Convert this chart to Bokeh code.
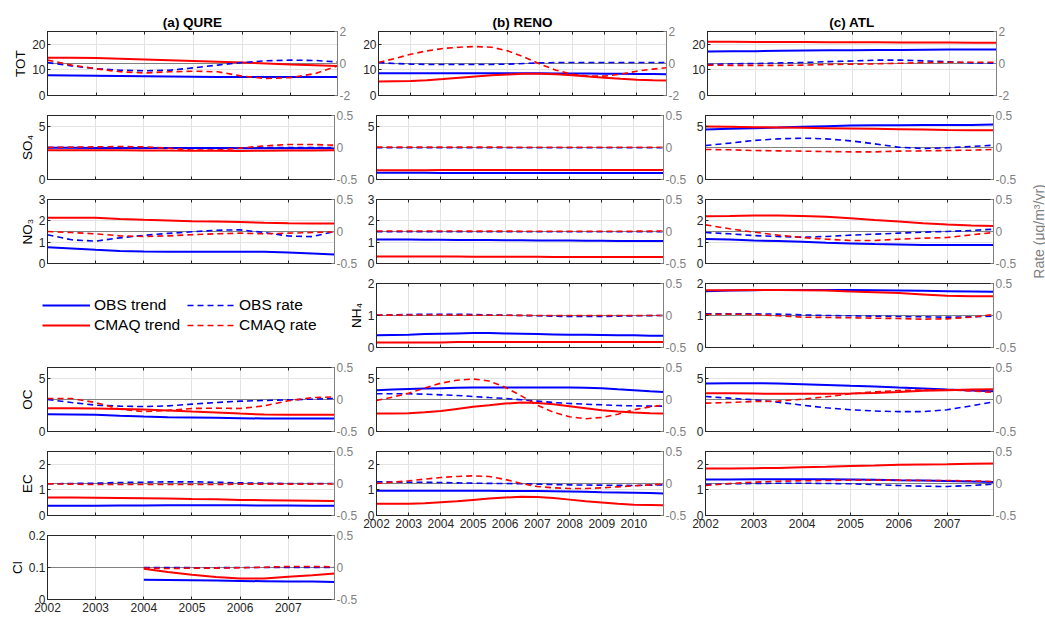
from bokeh.plotting import figure
from bokeh.models import (Range1d, LinearAxis, FixedTicker, Span, Legend, LegendItem,
                          Label, CustomJSTickFormatter)
from bokeh.layouts import row, column
from bokeh.embed import file_html
from bokeh.resources import INLINE

FONT = "Liberation Sans"
DARK = "#262626"
GRAY = "#808080"
GRIDC = "#e3e3e3"
BLUE = "#0000ff"
RED = "#ff0000"

# ---------------- data ----------------
QURE_YEARS = [2002, 2002.5, 2003, 2003.5, 2004, 2004.5, 2005, 2005.5, 2006, 2006.5, 2007, 2007.5, 2007.96]
QURE_CL_YEARS = [2004, 2004.5, 2005, 2005.5, 2006, 2006.5, 2007, 2007.5, 2007.96]
ATL_YEARS = [2002, 2002.5, 2003, 2003.5, 2004, 2004.5, 2005, 2005.5, 2006, 2006.5, 2007, 2007.5, 2007.96]
RENO_YEARS = [2002, 2002.5, 2003, 2003.5, 2004, 2004.5, 2005, 2005.5, 2006, 2006.5, 2007, 2007.5,
              2008, 2008.5, 2009, 2009.5, 2010, 2010.5, 2010.92]
TICKS_6Y = [2002, 2003, 2004, 2005, 2006, 2007]
TICKS_9Y = [2002, 2003, 2004, 2005, 2006, 2007, 2008, 2009, 2010]

# QURE
qure_tot_obs_trend = [7.9, 7.8, 7.7, 7.6, 7.5, 7.4, 7.3, 7.2, 7.2, 7.2, 7.2, 7.2, 7.2]
qure_tot_cmaq_trend = [14.7, 14.7, 14.6, 14.4, 14.1, 13.8, 13.5, 13.2, 12.9, 12.5, 12.1, 11.8, 11.5]
qure_tot_obs_rate = [0.06, -0.15, -0.32, -0.42, -0.46, -0.42, -0.27, -0.10, 0.06, 0.17, 0.21, 0.19, 0.10]
qure_tot_cmaq_rate = [0.21, -0.10, -0.33, -0.52, -0.59, -0.52, -0.48, -0.52, -0.79, -0.94, -0.88, -0.63, -0.15]

qure_so4_obs_trend = [2.97, 2.97, 2.96, 2.96, 2.95, 2.95, 2.95, 2.95, 2.94, 2.94, 2.94, 2.94, 2.94]
qure_so4_cmaq_trend = [2.75, 2.75, 2.75, 2.74, 2.73, 2.71, 2.70, 2.69, 2.68, 2.69, 2.71, 2.73, 2.74]
qure_so4_obs_rate = [0.0, 0.0, -0.005, -0.01, -0.01, -0.01, -0.01, -0.01, -0.005, 0.0, 0.0, 0.0, 0.0]
qure_so4_cmaq_rate = [0.0, 0.005, 0.01, 0.015, 0.01, -0.01, -0.04, -0.04, -0.01, 0.025, 0.047, 0.047, 0.036]

qure_no3_obs_trend = [0.76, 0.70, 0.64, 0.59, 0.56, 0.55, 0.55, 0.55, 0.55, 0.55, 0.51, 0.47, 0.42]
qure_no3_cmaq_trend = [2.14, 2.14, 2.14, 2.09, 2.05, 2.02, 1.98, 1.97, 1.94, 1.91, 1.89, 1.88, 1.88]
qure_no3_obs_rate = [-0.05, -0.13, -0.15, -0.10, -0.06, -0.03, -0.005, 0.02, 0.026, -0.016, -0.07, -0.08, 0.0]
qure_no3_cmaq_rate = [0.0, -0.016, -0.036, -0.068, -0.078, -0.068, -0.05, -0.036, -0.026, -0.036, -0.026, -0.016, -0.005]

qure_oc_obs_trend = [1.62, 1.59, 1.56, 1.47, 1.40, 1.34, 1.31, 1.28, 1.25, 1.22, 1.22, 1.22, 1.22]
qure_oc_cmaq_trend = [2.18, 2.18, 2.15, 2.12, 2.06, 1.97, 1.87, 1.78, 1.68, 1.59, 1.56, 1.56, 1.56]
qure_oc_obs_rate = [0.0, -0.047, -0.089, -0.104, -0.11, -0.10, -0.073, -0.047, -0.026, -0.016, -0.005, 0.005, 0.016]
qure_oc_cmaq_rate = [0.016, 0.016, -0.047, -0.15, -0.19, -0.17, -0.14, -0.135, -0.14, -0.10, -0.02, 0.03, 0.04]

qure_ec_obs_trend = [0.38, 0.38, 0.38, 0.39, 0.39, 0.40, 0.40, 0.40, 0.40, 0.39, 0.39, 0.38, 0.38]
qure_ec_cmaq_trend = [0.70, 0.70, 0.69, 0.68, 0.67, 0.66, 0.64, 0.63, 0.61, 0.60, 0.59, 0.58, 0.57]
qure_ec_obs_rate = [-0.005, 0.0, 0.005, 0.016, 0.02, 0.026, 0.026, 0.02, 0.01, 0.005, 0.0, 0.0, 0.0]
qure_ec_cmaq_rate = [-0.005, -0.01, -0.016, -0.016, -0.016, -0.016, -0.016, -0.016, -0.01, -0.01, -0.01, -0.01, -0.005]

qure_cl_obs_trend = [0.062, 0.061, 0.060, 0.059, 0.058, 0.057, 0.056, 0.056, 0.055]
qure_cl_cmaq_trend = [0.096, 0.086, 0.077, 0.070, 0.066, 0.066, 0.071, 0.076, 0.081]
qure_cl_obs_rate = [0.0, 0.0, -0.003, -0.003, 0.0, 0.0, 0.0, 0.0, 0.0]
qure_cl_cmaq_rate = [-0.01, -0.016, -0.01, -0.01, -0.005, 0.005, 0.016, 0.016, 0.01]

# RENO
reno_tot_obs_trend = [8.7, 8.7, 8.7, 8.7, 8.7, 8.7, 8.7, 8.7, 8.7, 8.7, 8.7, 8.6, 8.6, 8.6, 8.5, 8.5, 8.4, 8.4, 8.3]
reno_tot_cmaq_trend = [5.5, 5.6, 5.7, 6.0, 6.4, 6.9, 7.4, 7.9, 8.2, 8.5, 8.5, 8.3, 7.9, 7.4, 6.9, 6.5, 6.2, 6.0, 5.9]
reno_tot_obs_rate = [0.06, 0.0, -0.04, -0.06, -0.06, -0.06, -0.06, -0.06, -0.04, 0.0, 0.04, 0.06, 0.06, 0.06, 0.06, 0.06, 0.06, 0.06, 0.06]
reno_tot_cmaq_rate = [0.06, 0.31, 0.58, 0.79, 0.94, 1.02, 1.06, 1.02, 0.79, 0.42, -0.04, -0.42, -0.67, -0.79, -0.79, -0.67, -0.48, -0.35, -0.27]

reno_so4_obs_trend = [0.63, 0.63, 0.63, 0.63, 0.62, 0.62, 0.62, 0.62, 0.62, 0.62, 0.62, 0.61, 0.61, 0.61, 0.61, 0.61, 0.60, 0.60, 0.60]
reno_so4_cmaq_trend = [0.87, 0.87, 0.87, 0.87, 0.88, 0.88, 0.88, 0.88, 0.88, 0.88, 0.88, 0.89, 0.89, 0.89, 0.89, 0.89, 0.90, 0.90, 0.90]
reno_so4_obs_rate = [-0.004, -0.004, -0.005, -0.005, -0.005, -0.005, -0.005, -0.005, -0.005, -0.005, -0.005, -0.005, -0.005, -0.005, -0.005, -0.005, -0.004, -0.004, -0.004]
reno_so4_cmaq_rate = [0.006, 0.006, 0.006, 0.006, 0.006, 0.006, 0.006, 0.006, 0.005, 0.005, 0.005, 0.005, 0.005, 0.005, 0.005, 0.005, 0.005, 0.005, 0.005]

reno_no3_obs_trend = [1.12, 1.12, 1.12, 1.11, 1.11, 1.10, 1.10, 1.10, 1.09, 1.09, 1.08, 1.08, 1.08, 1.07, 1.07, 1.06, 1.06, 1.05, 1.05]
reno_no3_cmaq_trend = [0.33, 0.33, 0.33, 0.33, 0.33, 0.33, 0.32, 0.32, 0.32, 0.32, 0.32, 0.31, 0.31, 0.31, 0.31, 0.31, 0.30, 0.30, 0.30]
reno_no3_obs_rate = [-0.004, -0.004, -0.004, -0.004, -0.005, -0.005, -0.005, -0.005, -0.005, -0.005, -0.005, -0.005, -0.005, -0.005, -0.004, -0.004, -0.004, -0.004, -0.004]
reno_no3_cmaq_rate = [0.008, 0.008, 0.008, 0.008, 0.007, 0.007, 0.006, 0.006, 0.006, 0.005, 0.005, 0.005, 0.005, 0.005, 0.005, 0.005, 0.005, 0.006, 0.006]

reno_nh4_obs_trend = [0.38, 0.39, 0.40, 0.42, 0.43, 0.44, 0.45, 0.45, 0.44, 0.43, 0.42, 0.41, 0.40, 0.40, 0.39, 0.38, 0.38, 0.37, 0.37]
reno_nh4_cmaq_trend = [0.16, 0.16, 0.16, 0.16, 0.16, 0.17, 0.17, 0.17, 0.17, 0.17, 0.17, 0.17, 0.17, 0.17, 0.17, 0.17, 0.17, 0.17, 0.17]
reno_nh4_obs_rate = [0.005, 0.01, 0.016, 0.018, 0.02, 0.018, 0.016, 0.01, 0.005, 0.0, -0.005, -0.01, -0.016, -0.016, -0.016, -0.01, -0.005, -0.002, 0.0]
reno_nh4_cmaq_rate = [0.005, 0.006, 0.008, 0.008, 0.008, 0.006, 0.005, 0.004, 0.003, 0.002, 0.001, 0.0, 0.0, 0.0, 0.0, 0.0, 0.0, 0.0, 0.0]

reno_oc_obs_trend = [3.87, 3.93, 3.99, 4.03, 4.06, 4.09, 4.12, 4.12, 4.12, 4.12, 4.12, 4.12, 4.12, 4.09, 4.06, 3.96, 3.87, 3.78, 3.71]
reno_oc_cmaq_trend = [1.69, 1.69, 1.71, 1.81, 1.93, 2.12, 2.31, 2.46, 2.62, 2.71, 2.68, 2.56, 2.37, 2.18, 1.99, 1.87, 1.78, 1.71, 1.69]
reno_oc_obs_rate = [0.089, 0.089, 0.089, 0.083, 0.073, 0.063, 0.047, 0.031, 0.016, -0.005, -0.026, -0.047, -0.063, -0.073, -0.083, -0.094, -0.099, -0.104, -0.104]
reno_oc_cmaq_rate = [-0.016, 0.036, 0.099, 0.18, 0.255, 0.30, 0.32, 0.29, 0.19, 0.057, -0.089, -0.20, -0.27, -0.30, -0.28, -0.23, -0.16, -0.115, -0.089]

reno_ec_obs_trend = [0.965, 0.965, 0.965, 0.965, 0.965, 0.965, 0.965, 0.965, 0.96, 0.96, 0.955, 0.95, 0.94, 0.93, 0.91, 0.90, 0.89, 0.875, 0.86]
reno_ec_cmaq_trend = [0.46, 0.46, 0.46, 0.48, 0.52, 0.56, 0.61, 0.66, 0.70, 0.73, 0.72, 0.68, 0.62, 0.56, 0.51, 0.46, 0.42, 0.41, 0.40]
reno_ec_obs_rate = [0.026, 0.024, 0.021, 0.018, 0.016, 0.01, 0.005, 0.002, 0.0, -0.005, -0.01, -0.016, -0.021, -0.024, -0.026, -0.029, -0.031, -0.026, -0.021]
reno_ec_cmaq_rate = [0.0, 0.021, 0.042, 0.068, 0.094, 0.11, 0.12, 0.11, 0.063, 0.0, -0.047, -0.068, -0.078, -0.078, -0.068, -0.052, -0.036, -0.021, -0.01]

# ATL
atl_tot_obs_trend = [17.2, 17.25, 17.3, 17.45, 17.6, 17.65, 17.7, 17.75, 17.8, 17.9, 18.0, 18.0, 18.0]
atl_tot_cmaq_trend = [21.0, 21.0, 20.9, 20.9, 20.9, 20.8, 20.8, 20.8, 20.7, 20.7, 20.7, 20.6, 20.6]
atl_tot_obs_rate = [-0.06, -0.02, 0.0, 0.04, 0.06, 0.12, 0.16, 0.21, 0.21, 0.16, 0.10, 0.04, 0.02]
atl_tot_cmaq_rate = [-0.10, -0.12, -0.12, -0.12, -0.10, -0.06, -0.04, -0.02, 0.02, 0.06, 0.08, 0.08, 0.08]

atl_so4_obs_trend = [4.69, 4.75, 4.81, 4.87, 4.94, 5.00, 5.06, 5.09, 5.09, 5.12, 5.12, 5.12, 5.15]
atl_so4_cmaq_trend = [4.97, 4.94, 4.90, 4.87, 4.84, 4.81, 4.78, 4.75, 4.72, 4.69, 4.65, 4.62, 4.62]
atl_so4_obs_rate = [0.031, 0.068, 0.11, 0.135, 0.146, 0.135, 0.104, 0.057, 0.005, -0.016, -0.005, 0.016, 0.036]
atl_so4_cmaq_rate = [-0.031, -0.036, -0.047, -0.052, -0.057, -0.063, -0.068, -0.068, -0.057, -0.052, -0.047, -0.042, -0.031]

atl_no3_obs_trend = [1.15, 1.12, 1.08, 1.05, 1.02, 0.97, 0.94, 0.91, 0.89, 0.87, 0.87, 0.87, 0.87]
atl_no3_cmaq_trend = [2.22, 2.23, 2.25, 2.25, 2.23, 2.19, 2.12, 2.04, 1.97, 1.89, 1.83, 1.78, 1.76]
atl_no3_obs_rate = [-0.016, -0.036, -0.063, -0.078, -0.089, -0.078, -0.057, -0.042, -0.026, -0.01, 0.0, 0.016, 0.036]
atl_no3_cmaq_rate = [0.104, 0.042, -0.01, -0.057, -0.094, -0.12, -0.14, -0.14, -0.12, -0.104, -0.094, -0.052, -0.016]

atl_nh4_obs_trend = [1.76, 1.78, 1.79, 1.80, 1.80, 1.80, 1.80, 1.79, 1.78, 1.77, 1.76, 1.75, 1.74]
atl_nh4_cmaq_trend = [1.79, 1.79, 1.80, 1.80, 1.79, 1.78, 1.75, 1.73, 1.70, 1.66, 1.62, 1.60, 1.60]
atl_nh4_obs_rate = [0.026, 0.026, 0.026, 0.021, 0.01, 0.0, -0.005, -0.01, -0.016, -0.021, -0.026, -0.021, -0.01]
atl_nh4_cmaq_rate = [0.016, 0.021, 0.016, -0.005, -0.026, -0.031, -0.036, -0.042, -0.047, -0.057, -0.052, -0.026, 0.016]

atl_oc_obs_trend = [4.50, 4.53, 4.53, 4.50, 4.44, 4.37, 4.28, 4.22, 4.12, 4.03, 3.93, 3.84, 3.78]
atl_oc_cmaq_trend = [3.59, 3.59, 3.56, 3.53, 3.53, 3.53, 3.56, 3.62, 3.71, 3.81, 3.87, 3.93, 3.96]
atl_oc_obs_rate = [0.047, 0.021, -0.005, -0.042, -0.089, -0.13, -0.16, -0.18, -0.19, -0.19, -0.16, -0.099, -0.036]
atl_oc_cmaq_rate = [-0.057, -0.047, -0.031, -0.026, 0.005, 0.042, 0.089, 0.12, 0.14, 0.15, 0.15, 0.135, 0.11]

atl_ec_obs_trend = [1.41, 1.41, 1.42, 1.42, 1.42, 1.42, 1.41, 1.40, 1.38, 1.37, 1.35, 1.33, 1.31]
atl_ec_cmaq_trend = [1.84, 1.84, 1.85, 1.86, 1.88, 1.90, 1.93, 1.95, 1.98, 1.99, 2.00, 2.02, 2.03]
atl_ec_obs_rate = [-0.016, -0.005, 0.0, 0.005, 0.005, 0.0, -0.005, -0.016, -0.031, -0.042, -0.047, -0.031, -0.01]
atl_ec_cmaq_rate = [-0.031, 0.0, 0.021, 0.036, 0.042, 0.047, 0.052, 0.052, 0.052, 0.047, 0.047, 0.042, 0.031]

# axis settings
TOT_LIM, TOT_TICKS = (0, 25), [0, 10, 20]
SO4_LIM, SO4_TICKS = (0, 6), [0, 5]
NO3_LIM, NO3_TICKS = (0, 3), [0, 1, 2, 3]
NH4_LIM, NH4_TICKS = (0, 2), [0, 1, 2]
OC_LIM, OC_TICKS = (0, 6), [0, 5]
EC_LIM, EC_TICKS = (0, 2.5), [0, 1, 2]
CL_LIM, CL_TICKS = (0, 0.2), [0, 0.1, 0.2]
RATE_TOT_LIM, RATE_TOT_TICKS = (-2, 2), [-2, 0, 2]
RATE_LIM, RATE_TICKS = (-0.5, 0.5), [-0.5, 0, 0.5]
XMAX_6Y = 2007.96
XMAX_9Y = 2010.92


def fmt():
    return CustomJSTickFormatter(code="return Number(tick.toFixed(4)).toString();")


def blank():
    return CustomJSTickFormatter(code="return '';")


def style_axis(ax, color, show, ticks):
    ax.ticker = FixedTicker(ticks=ticks)
    ax.major_tick_in = 3
    ax.major_tick_out = 0
    ax.minor_tick_line_color = None
    ax.axis_line_color = color
    ax.major_tick_line_color = color
    ax.major_label_text_color = color
    ax.major_label_text_font = FONT
    if show:
        ax.major_label_text_font_size = "12px"
        ax.major_label_standoff = 2
        ax.formatter = fmt()
    else:
        ax.major_label_text_font_size = "0px"
        ax.major_label_standoff = 0
        ax.formatter = blank()


def panel(width, height, years, xmax, xticks, ylim, yticks, rlim, rticks, series,
          bl, br, bt, bb, ylabel=None, title=None, show_x=False):
    p = figure(width=width, height=height, x_range=Range1d(2002, xmax), y_range=Range1d(*ylim),
               output_backend="svg", toolbar_location=None, title=title,
               min_border_left=bl, min_border_right=br, min_border_top=bt, min_border_bottom=bb)
    p.outline_line_color = DARK
    p.outline_line_width = 1
    p.background_fill_color = "white"
    p.border_fill_color = "white"
    if title is not None:
        p.title.align = "center"
        p.title.text_font = FONT
        p.title.text_font_size = "13.5px"
        p.title.text_font_style = "bold"
        p.title.text_color = "black"
        p.title.standoff = 3
    style_axis(p.xaxis[0], DARK, show_x, xticks)
    if show_x:
        p.xaxis[0].major_label_standoff = 3
    style_axis(p.yaxis[0], DARK, True, yticks)
    if ylabel:
        p.yaxis[0].axis_label = ylabel
        p.yaxis[0].axis_label_text_font = FONT
        p.yaxis[0].axis_label_text_font_size = "13.5px"
        p.yaxis[0].axis_label_text_font_style = "normal"
        p.yaxis[0].axis_label_text_color = "black"
        p.yaxis[0].axis_label_standoff = 1
    top = LinearAxis()
    style_axis(top, DARK, False, xticks)
    p.add_layout(top, "above")
    p.extra_y_ranges = {"rate": Range1d(*rlim)}
    right = LinearAxis(y_range_name="rate")
    style_axis(right, GRAY, True, rticks)
    p.add_layout(right, "right")
    p.xgrid.grid_line_color = GRIDC
    p.ygrid.grid_line_color = GRIDC
    p.add_layout(Span(location=0, dimension="width", y_range_name="rate",
                      line_color=GRAY, line_width=1, level="underlay"))
    obs_trend, cmaq_trend, obs_rate, cmaq_rate = series
    p.line(years, obs_trend, line_color=BLUE, line_width=2)
    p.line(years, cmaq_trend, line_color=RED, line_width=2)
    p.line(years, obs_rate, y_range_name="rate", line_color=BLUE, line_width=1.6, line_dash="6 4")
    p.line(years, cmaq_rate, y_range_name="rate", line_color=RED, line_width=1.6, line_dash="6 4")
    return p


WA, WB, WC = 360, 329, 330
LA, LB, LC, R = 47, 16, 16, 23

# Row 1 - TOT
aTOT = panel(WA, 105, QURE_YEARS, XMAX_6Y, TICKS_6Y, TOT_LIM, TOT_TICKS, RATE_TOT_LIM, RATE_TOT_TICKS,
             (qure_tot_obs_trend, qure_tot_cmaq_trend, qure_tot_obs_rate, qure_tot_cmaq_rate),
             LA, R, 31, 10, ylabel="TOT", title="(a) QURE")
bTOT = panel(WB, 105, RENO_YEARS, XMAX_9Y, TICKS_9Y, TOT_LIM, TOT_TICKS, RATE_TOT_LIM, RATE_TOT_TICKS,
             (reno_tot_obs_trend, reno_tot_cmaq_trend, reno_tot_obs_rate, reno_tot_cmaq_rate),
             LB, R, 31, 10, title="(b) RENO")
cTOT = panel(WC, 105, ATL_YEARS, XMAX_6Y, TICKS_6Y, TOT_LIM, TOT_TICKS, RATE_TOT_LIM, RATE_TOT_TICKS,
             (atl_tot_obs_trend, atl_tot_cmaq_trend, atl_tot_obs_rate, atl_tot_cmaq_rate),
             LC, R, 31, 10, title="(c) ATL")

# Row 2 - SO4
aSO4 = panel(WA, 84, QURE_YEARS, XMAX_6Y, TICKS_6Y, SO4_LIM, SO4_TICKS, RATE_LIM, RATE_TICKS,
             (qure_so4_obs_trend, qure_so4_cmaq_trend, qure_so4_obs_rate, qure_so4_cmaq_rate),
             LA, R, 10, 10, ylabel="SO\u2084")
bSO4 = panel(WB, 84, RENO_YEARS, XMAX_9Y, TICKS_9Y, SO4_LIM, SO4_TICKS, RATE_LIM, RATE_TICKS,
             (reno_so4_obs_trend, reno_so4_cmaq_trend, reno_so4_obs_rate, reno_so4_cmaq_rate),
             LB, R, 10, 10)
cSO4 = panel(WC, 84, ATL_YEARS, XMAX_6Y, TICKS_6Y, SO4_LIM, SO4_TICKS, RATE_LIM, RATE_TICKS,
             (atl_so4_obs_trend, atl_so4_cmaq_trend, atl_so4_obs_rate, atl_so4_cmaq_rate),
             LC, R, 10, 10)

# Row 3 - NO3
aNO3 = panel(WA, 84, QURE_YEARS, XMAX_6Y, TICKS_6Y, NO3_LIM, NO3_TICKS, RATE_LIM, RATE_TICKS,
             (qure_no3_obs_trend, qure_no3_cmaq_trend, qure_no3_obs_rate, qure_no3_cmaq_rate),
             LA, R, 10, 10, ylabel="NO\u2083")
bNO3 = panel(WB, 84, RENO_YEARS, XMAX_9Y, TICKS_9Y, NO3_LIM, NO3_TICKS, RATE_LIM, RATE_TICKS,
             (reno_no3_obs_trend, reno_no3_cmaq_trend, reno_no3_obs_rate, reno_no3_cmaq_rate),
             LB, R, 10, 10)
cNO3 = panel(WC, 84, ATL_YEARS, XMAX_6Y, TICKS_6Y, NO3_LIM, NO3_TICKS, RATE_LIM, RATE_TICKS,
             (atl_no3_obs_trend, atl_no3_cmaq_trend, atl_no3_obs_rate, atl_no3_cmaq_rate),
             LC, R, 10, 10)

# Row 4 - legend + NH4
leg = figure(width=345, height=84, x_range=Range1d(0, 1), y_range=Range1d(0, 1),
             output_backend="svg", toolbar_location=None, x_axis_type=None, y_axis_type=None,
             min_border=0, title=None)
leg.outline_line_color = None
NAN = float("nan")
r_ot = leg.line([NAN], [NAN], line_color=BLUE, line_width=2)
r_ct = leg.line([NAN], [NAN], line_color=RED, line_width=2)
r_or = leg.line([NAN], [NAN], line_color=BLUE, line_width=1.6, line_dash="6 4")
r_cr = leg.line([NAN], [NAN], line_color=RED, line_width=1.6, line_dash="6 4")


def add_legend(items, x, y):
    lg = Legend(items=items, location=(x, y), orientation="vertical",
                border_line_color=None, background_fill_alpha=0, padding=0, margin=0,
                spacing=0, glyph_width=48, glyph_height=20, label_height=20,
                label_standoff=4, label_text_font=FONT, label_text_font_size="15.5px",
                label_text_color="black")
    leg.add_layout(lg)


add_legend([LegendItem(label="OBS trend", renderers=[r_ot]),
            LegendItem(label="CMAQ trend", renderers=[r_ct])], 42, 12)
add_legend([LegendItem(label="OBS rate", renderers=[r_or]),
            LegendItem(label="CMAQ rate", renderers=[r_cr])], 187, 12)

bNH4 = panel(344, 84, RENO_YEARS, XMAX_9Y, TICKS_9Y, NH4_LIM, NH4_TICKS, RATE_LIM, RATE_TICKS,
             (reno_nh4_obs_trend, reno_nh4_cmaq_trend, reno_nh4_obs_rate, reno_nh4_cmaq_rate),
             31, R, 10, 10, ylabel="NH\u2084")
cNH4 = panel(WC, 84, ATL_YEARS, XMAX_6Y, TICKS_6Y, NH4_LIM, NH4_TICKS, RATE_LIM, RATE_TICKS,
             (atl_nh4_obs_trend, atl_nh4_cmaq_trend, atl_nh4_obs_rate, atl_nh4_cmaq_rate),
             LC, R, 10, 10)

# Row 5 - OC
aOC = panel(WA, 84, QURE_YEARS, XMAX_6Y, TICKS_6Y, OC_LIM, OC_TICKS, RATE_LIM, RATE_TICKS,
            (qure_oc_obs_trend, qure_oc_cmaq_trend, qure_oc_obs_rate, qure_oc_cmaq_rate),
            LA, R, 10, 10, ylabel="OC")
bOC = panel(WB, 84, RENO_YEARS, XMAX_9Y, TICKS_9Y, OC_LIM, OC_TICKS, RATE_LIM, RATE_TICKS,
            (reno_oc_obs_trend, reno_oc_cmaq_trend, reno_oc_obs_rate, reno_oc_cmaq_rate),
            LB, R, 10, 10)
cOC = panel(WC, 84, ATL_YEARS, XMAX_6Y, TICKS_6Y, OC_LIM, OC_TICKS, RATE_LIM, RATE_TICKS,
            (atl_oc_obs_trend, atl_oc_cmaq_trend, atl_oc_obs_rate, atl_oc_cmaq_rate),
            LC, R, 10, 10)

# Row 6 - EC (+ Cl)
aEC = panel(WA, 84, QURE_YEARS, XMAX_6Y, TICKS_6Y, EC_LIM, EC_TICKS, RATE_LIM, RATE_TICKS,
            (qure_ec_obs_trend, qure_ec_cmaq_trend, qure_ec_obs_rate, qure_ec_cmaq_rate),
            LA, R, 10, 10, ylabel="EC")
aCl = panel(WA, 92, QURE_CL_YEARS, XMAX_6Y, TICKS_6Y, CL_LIM, CL_TICKS, RATE_LIM, RATE_TICKS,
            (qure_cl_obs_trend, qure_cl_cmaq_trend, qure_cl_obs_rate, qure_cl_cmaq_rate),
            LA, R, 10, 18, ylabel="Cl", show_x=True)
bEC = panel(WB, 100, RENO_YEARS, XMAX_9Y, TICKS_9Y, EC_LIM, EC_TICKS, RATE_LIM, RATE_TICKS,
            (reno_ec_obs_trend, reno_ec_cmaq_trend, reno_ec_obs_rate, reno_ec_cmaq_rate),
            LB, R, 10, 26, show_x=True)
cEC = panel(WC, 100, ATL_YEARS, XMAX_6Y, TICKS_6Y, EC_LIM, EC_TICKS, RATE_LIM, RATE_TICKS,
            (atl_ec_obs_trend, atl_ec_cmaq_trend, atl_ec_obs_rate, atl_ec_cmaq_rate),
            LC, R, 10, 26, show_x=True)

# right-hand rate label
rf = figure(width=26, height=617, x_range=Range1d(0, 1), y_range=Range1d(0, 1),
            output_backend="svg", toolbar_location=None, x_axis_type=None, y_axis_type=None,
            min_border=0, title=None)
rf.outline_line_color = None
rf.add_layout(Label(x=19, y=386, x_units="screen", y_units="screen",
                    text="Rate (\u03bcg/m\u00b3/yr)", angle=90, angle_units="deg",
                    text_align="center", text_baseline="middle", text_color=GRAY,
                    text_font=FONT, text_font_size="14px"))

grid = column(
    row(aTOT, bTOT, cTOT),
    row(aSO4, bSO4, cSO4),
    row(aNO3, bNO3, cNO3),
    row(leg, bNH4, cNH4),
    row(aOC, bOC, cOC),
    row(column(aEC, aCl), bEC, cEC),
)
page = row(grid, rf)

open("out.html", "w").write(file_html(page, INLINE, title="Trends"))
